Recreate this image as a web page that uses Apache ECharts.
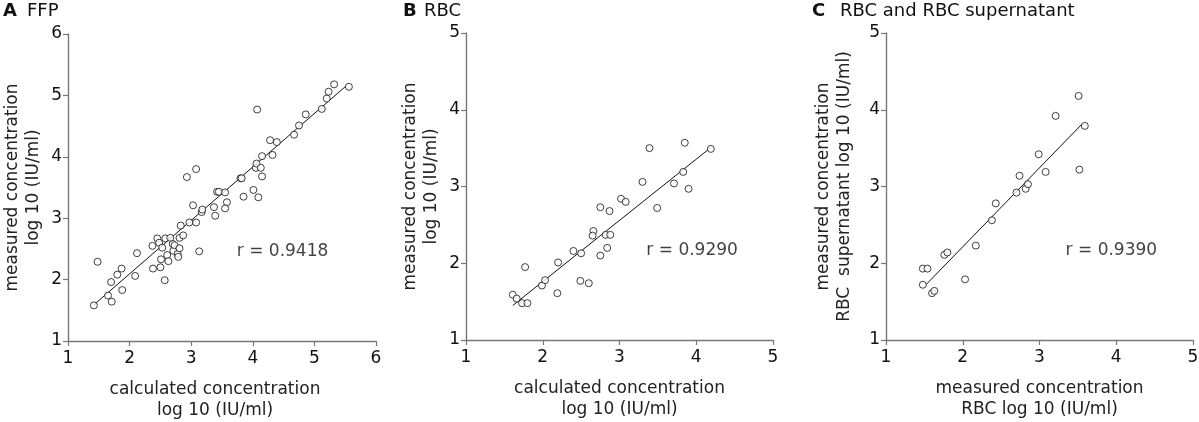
<!DOCTYPE html>
<html>
<head>
<meta charset="utf-8">
<title>measured vs calculated concentration</title>
<script src="https://cdn.jsdelivr.net/npm/echarts@6/dist/echarts.min.js"></script>
<style>
	html, body { margin: 0; padding: 0; background: #fff; }
	#chart { width: 1199px; height: 422px; }
</style>
</head>
<body>
<div id="chart"></div>
<script>
// panel A - FFP
var ffpCalc = [1.42,1.48,1.65,1.71,1.70,1.80,1.87,1.88,2.09,2.12,2.37,2.38,2.45,2.50,2.51,2.48,2.53,2.58,2.57,2.61,2.63,2.66,2.70,2.71,2.73,2.78,2.79,2.81,2.81,2.87,2.83,2.97,3.08,3.03,3.13,2.93,3.08,3.17,3.18,3.37,3.39,3.42,3.45,3.55,3.58,3.55,3.80,3.82,3.85,4.01,4.09,4.05,4.06,4.13,4.15,4.15,4.07,4.28,4.39,4.32,4.67,4.75,4.86,5.12,5.20,5.23,5.32,5.56];
var ffpMeas = [1.58,2.29,1.74,1.64,1.96,2.08,2.18,1.83,2.06,2.43,2.55,2.18,2.67,2.20,2.33,2.60,2.52,2.67,1.99,2.40,2.30,2.68,2.58,2.47,2.56,2.42,2.37,2.68,2.51,2.72,2.88,2.93,2.93,3.21,2.46,3.67,3.80,3.10,3.14,3.18,3.04,3.43,3.43,3.42,3.26,3.16,3.65,3.65,3.35,3.46,3.34,3.82,3.89,3.82,3.68,4.01,4.77,4.27,4.24,4.03,4.36,4.51,4.69,4.78,4.95,5.06,5.18,5.14];
var ffpFitX = [1.41, 5.51];
var ffpFitY = [1.58, 5.15];

// panel B - RBC
var rbcCalc = [1.61,1.66,1.73,1.80,1.77,1.99,2.03,2.19,2.20,2.40,2.50,2.49,2.60,2.66,2.65,2.75,2.75,2.82,2.88,2.84,2.87,3.02,3.08,3.30,3.39,3.49,3.71,3.83,3.85,3.90,4.19];
var rbcMeas = [1.59,1.54,1.48,1.48,1.95,1.71,1.78,1.61,2.01,2.16,2.13,1.77,1.74,2.42,2.36,2.73,2.10,2.37,2.37,2.20,2.68,2.84,2.80,3.06,3.50,2.72,3.04,3.19,3.57,2.97,3.49];
var rbcFitX = [1.61, 4.18];
var rbcFitY = [1.45, 3.50];

// panel C - RBC and RBC supernatant
var supRbc = [1.48,1.54,1.48,1.60,1.63,1.76,1.80,2.03,2.17,2.38,2.43,2.70,2.74,2.82,2.85,2.99,3.08,3.21,3.51,3.52,3.59];
var supSup = [1.93,1.93,1.72,1.61,1.64,2.11,2.14,1.79,2.23,2.56,2.78,2.92,3.14,2.97,3.03,3.42,3.19,3.92,4.18,3.22,3.79];
var supFitX = [1.52, 3.56];
var supFitY = [1.72, 3.82];

// r values and where they sit (data coords)
var rLabels = ['r = 0.9418', 'r = 0.9290', 'r = 0.9390'];
var rPosX = [3.74, 3.35, 3.34];
var rPosY = [2.45, 2.16, 2.16];

var panelLetters = ['A', 'B', 'C'];
var panelTitles = ['FFP', 'RBC', 'RBC and RBC supernatant'];
var xNames = ['calculated concentration\nlog 10 (IU/ml)', 'calculated concentration\nlog 10 (IU/ml)', 'measured concentration\nRBC log 10 (IU/ml)'];
var yNames = ['measured concentration\nlog 10 (IU/ml)', 'measured concentration\nlog 10 (IU/ml)', 'measured concentration\nRBC  supernatant log 10 (IU/ml)'];
var axisMax = [6, 5, 5];


(function () {
	var FONT = 'DejaVu Sans';
	var chart = echarts.init(document.getElementById('chart'));

	// fixed pixel boxes, no auto shrinking for labels (v6 default)
	var grids = [
		{ left: 68, top: 34, width: 308, height: 307, outerBoundsMode: 'none', containLabel: false },
		{ left: 466, top: 33, width: 307, height: 307, outerBoundsMode: 'none', containLabel: false },
		{ left: 886, top: 33, width: 307, height: 307, outerBoundsMode: 'none', containLabel: false }
	];
	var letterLeft = [3, 403, 812];
	var titleLeft = [27, 424, 840];
	var yNameGap = [24, 24, 31];

	function zip(xs, ys) {
		var out = [];
		for (var i = 0; i < xs.length; i++) out.push([xs[i], ys[i]]);
		return out;
	}

	function axis(i, name, isX) {
		return {
			type: 'value',
			gridIndex: i,
			min: 1,
			max: axisMax[i],
			interval: 1,
			name: name,
			nameLocation: 'middle',
			nameGap: isX ? 38 : yNameGap[i],
			nameRotate: isX ? 0 : 90,
			nameTextStyle: {
				fontFamily: FONT,
				fontSize: 17,
				color: '#222',
				lineHeight: 21,
				padding: isX && i === 0 ? [0, 14, 0, 0] : 0
			},
			axisLine: { show: true, onZero: false, lineStyle: { color: '#777', width: 1.4 } },
			axisTick: { show: true, length: 5, lineStyle: { color: '#777', width: 1.2 } },
			axisLabel: { fontFamily: FONT, fontSize: 17, color: '#111', margin: isX ? 9 : 6 },
			splitLine: { show: false }
		};
	}

	var titles = [], xAxes = [], yAxes = [], series = [];
	var scatterX = [ffpCalc, rbcCalc, supRbc];
	var scatterY = [ffpMeas, rbcMeas, supSup];
	var fitX = [ffpFitX, rbcFitX, supFitX];
	var fitY = [ffpFitY, rbcFitY, supFitY];

	for (var i = 0; i < 3; i++) {
		titles.push({
			text: panelLetters[i], left: letterLeft[i], top: 2, padding: 0,
			textStyle: { fontFamily: FONT, fontSize: 18, fontWeight: 'bold', color: '#111' }
		});
		titles.push({
			text: panelTitles[i], left: titleLeft[i], top: 2, padding: 0,
			textStyle: { fontFamily: FONT, fontSize: 18, fontWeight: 'normal', color: '#111' }
		});

		xAxes.push(axis(i, xNames[i], true));
		yAxes.push(axis(i, yNames[i], false));

		// regression line
		series.push({
			type: 'line',
			xAxisIndex: i, yAxisIndex: i,
			data: zip(fitX[i], fitY[i]),
			showSymbol: false,
			silent: true,
			z: 1,
			lineStyle: { color: '#111', width: 1 }
		});

		// open circles
		series.push({
			type: 'scatter',
			xAxisIndex: i, yAxisIndex: i,
			data: zip(scatterX[i], scatterY[i]),
			symbol: 'circle',
			symbolSize: 7,
			z: 2,
			itemStyle: { color: '#fff', borderColor: '#111', borderWidth: 1 }
		});

		// r label
		series.push({
			type: 'scatter',
			xAxisIndex: i, yAxisIndex: i,
			data: [[rPosX[i], rPosY[i]]],
			symbolSize: 0,
			silent: true,
			label: {
				show: true,
				position: 'right',
				distance: 0,
				formatter: rLabels[i],
				fontFamily: FONT,
				fontSize: 17,
				color: '#111'
			}
		});
	}

	chart.setOption({
		animation: false,
		backgroundColor: '#fff',
		title: titles,
		grid: grids,
		xAxis: xAxes,
		yAxis: yAxes,
		series: series
	});
})();
</script>
</body>
</html>
